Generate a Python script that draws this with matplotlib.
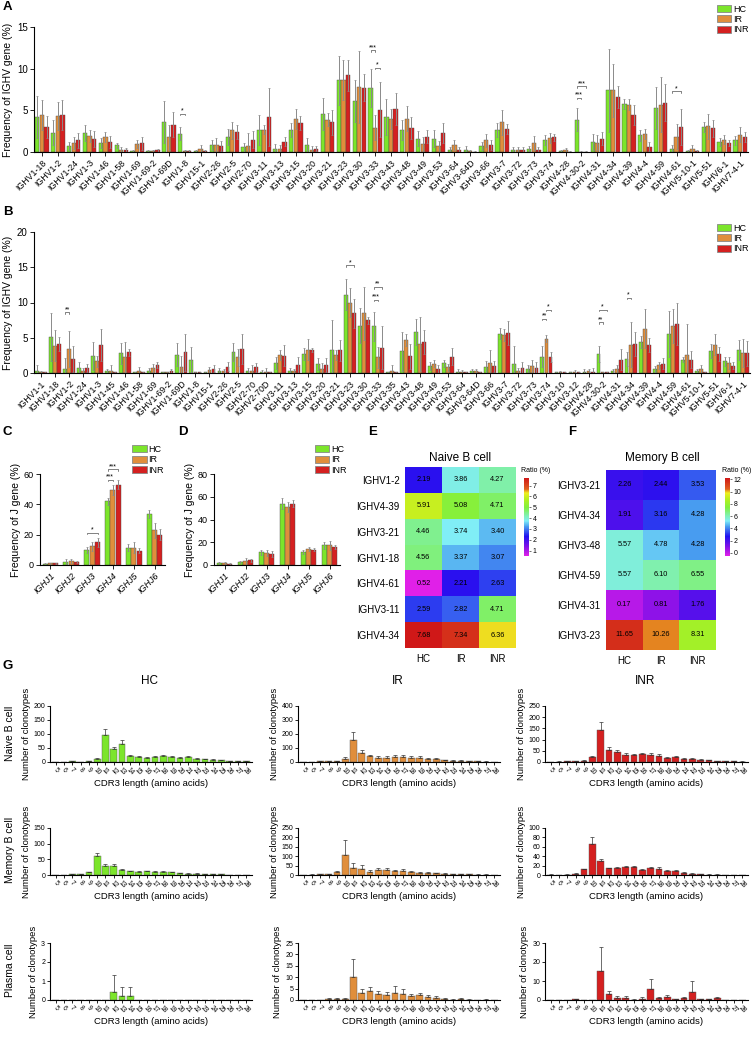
import matplotlib
matplotlib.use('Agg')
import matplotlib.pyplot as plt
import numpy as np
from matplotlib.colors import LinearSegmentedColormap
from matplotlib.patches import Patch

plt.rcParams['font.family'] = ['Liberation Sans', 'DejaVu Sans']

W, H = 752, 1037
groups = ['HC', 'IR', 'INR']
colors = ['#7ce52b', '#e08e3c', '#d42020']

# ---------------- panel A ----------------
a_cats = ['IGHV1-18', 'IGHV1-2', 'IGHV1-24', 'IGHV1-3', 'IGHV1-46', 'IGHV1-58', 'IGHV1-69',
          'IGHV1-69-2', 'IGHV1-69D', 'IGHV1-8', 'IGHV15-1', 'IGHV2-26', 'IGHV2-5', 'IGHV2-70',
          'IGHV3-11', 'IGHV3-13', 'IGHV3-15', 'IGHV3-20', 'IGHV3-21', 'IGHV3-23', 'IGHV3-30',
          'IGHV3-33', 'IGHV3-43', 'IGHV3-48', 'IGHV3-49', 'IGHV3-53', 'IGHV3-64', 'IGHV3-64D',
          'IGHV3-66', 'IGHV3-7', 'IGHV3-72', 'IGHV3-73', 'IGHV3-74', 'IGHV4-28', 'IGHV4-30-2',
          'IGHV4-31', 'IGHV4-34', 'IGHV4-39', 'IGHV4-4', 'IGHV4-59', 'IGHV4-61', 'IGHV5-10-1',
          'IGHV5-51', 'IGHV6-1', 'IGHV7-4-1']
a_hc = [4.2, 2.3, 0.7, 2.3, 1.1, 0.8, 0.15, 0.1, 3.6, 2.2, 0.1, 0.8, 1.8, 0.55, 2.6, 0.4, 2.65, 0.8,
        4.6, 8.6, 6.1, 7.7, 4.2, 2.7, 1.6, 1.6, 0.25, 0.3, 0.7, 2.65, 0.3, 0.4, 1.5, 0.1, 3.9, 1.2,
        7.4, 5.8, 2.0, 5.3, 0.4, 0.1, 3.0, 1.2, 1.4]
a_ir = [4.4, 4.3, 1.1, 1.9, 1.75, 0.3, 0.95, 0.1, 1.75, 0.1, 0.4, 0.9, 2.6, 0.7, 2.7, 0.4, 4.0, 0.3,
        3.9, 8.6, 7.8, 2.9, 4.0, 4.0, 0.95, 0.7, 0.8, 0.1, 1.4, 3.6, 0.3, 1.1, 1.7, 0.2, 0.05, 1.1,
        7.4, 5.7, 2.15, 5.7, 1.85, 0.4, 3.1, 1.5, 2.1]
a_inr = [3.0, 4.4, 1.4, 1.55, 1.2, 0.25, 1.05, 0.2, 3.3, 0.1, 0.1, 0.7, 2.4, 1.5, 4.2, 1.25, 3.5, 0.4,
         3.6, 9.2, 7.7, 5.1, 5.2, 2.9, 1.85, 2.3, 0.3, 0.05, 0.9, 2.8, 0.3, 0.3, 1.75, 0.05, 0.05, 1.6,
         6.6, 4.4, 0.65, 5.9, 3.0, 0.1, 2.85, 1.1, 1.8]
a_hc_err = [2.5, 1.5, 0.5, 1.0, 0.6, 0.3, 0.1, 0.1, 2.5, 0.8, 0.1, 0.6, 1.0, 0.5, 1.8, 0.6, 0.8, 0.9,
            1.9, 2.9, 2.5, 2.3, 2.2, 1.2, 0.9, 1.0, 0.3, 0.4, 0.5, 0.8, 0.3, 0.3, 0.6, 0.1, 1.4, 1.0,
            5.0, 0.6, 0.7, 2.5, 0.5, 0.1, 0.6, 0.5, 0.5]
a_ir_err = [1.8, 1.7, 0.7, 0.7, 0.6, 0.3, 0.5, 0.1, 1.5, 0.1, 0.5, 0.8, 1.0, 1.6, 0.5, 0.5, 1.2, 0.4,
            0.8, 2.4, 4.3, 1.5, 1.2, 1.5, 0.8, 0.6, 0.6, 0.2, 0.8, 1.5, 0.3, 0.8, 0.6, 0.3, 0.05, 0.9,
            3.2, 0.7, 0.6, 3.3, 1.5, 0.5, 1.5, 0.5, 0.9]
a_inr_err = [1.3, 1.8, 0.9, 1.0, 0.7, 0.2, 0.8, 0.2, 1.5, 0.1, 0.1, 0.6, 0.8, 1.0, 3.5, 0.5, 0.8, 0.3,
             1.5, 1.9, 1.6, 3.3, 1.9, 1.3, 0.8, 1.2, 0.3, 0.1, 0.6, 0.6, 0.3, 0.3, 0.4, 0.1, 0.05, 0.8,
             1.3, 1.2, 0.5, 2.2, 2.2, 0.1, 1.0, 0.4, 0.6]
# (category, group from, group to, y, text)
a_sig = [('IGHV1-8', 0, 1, 4.6, '*'), ('IGHV3-33', 0, 1, 12.2, '***'), ('IGHV3-33', 1, 2, 10.1, '*'),
         ('IGHV4-30-2', 0, 2, 7.9, '***'), ('IGHV4-30-2', 0, 1, 6.5, '***'), ('IGHV4-61', 0, 2, 7.3, '*')]

# ---------------- panel B ----------------
b_cats = ['IGHV1-1', 'IGHV1-18', 'IGHV1-2', 'IGHV1-24', 'IGHV1-3', 'IGHV1-45', 'IGHV1-46', 'IGHV1-58',
          'IGHV1-69', 'IGHV1-69-2', 'IGHV1-69D', 'IGHV1-8', 'IGHV15-1', 'IGHV2-26', 'IGHV2-5', 'IGHV2-70',
          'IGHV2-70D', 'IGHV3-11', 'IGHV3-13', 'IGHV3-15', 'IGHV3-20', 'IGHV3-21', 'IGHV3-23', 'IGHV3-30',
          'IGHV3-33', 'IGHV3-35', 'IGHV3-43', 'IGHV3-48', 'IGHV3-49', 'IGHV3-53', 'IGHV3-64', 'IGHV3-64D',
          'IGHV3-66', 'IGHV3-7', 'IGHV3-72', 'IGHV3-73', 'IGHV3-74', 'IGHV3-10', 'IGHV3-12', 'IGHV4-28',
          'IGHV4-30-2', 'IGHV4-31', 'IGHV4-34', 'IGHV4-39', 'IGHV4-4', 'IGHV4-59', 'IGHV4-61', 'IGHV5-10-1',
          'IGHV5-51', 'IGHV6-1', 'IGHV7-4-1']
b_hc = [0.3, 5.07, 0.6, 0.7, 2.45, 0.3, 2.8, 0.1, 0.3, 0.1, 2.6, 1.9, 0.1, 0.3, 3.0, 0.3, 0.2, 1.4, 0.3,
        2.7, 1.27, 3.2, 11.1, 6.7, 6.6, 0.1, 3.05, 5.8, 1.03, 1.4, 0.2, 0.3, 0.85, 5.6, 1.3, 0.6, 2.3,
        0.1, 0.1, 0.2, 2.7, 0.25, 2.0, 4.4, 0.6, 5.5, 1.9, 0.3, 3.15, 1.65, 3.3]
b_ir = [0.1, 3.85, 3.4, 0.3, 1.65, 0.3, 2.25, 0.3, 0.7, 0.1, 0.85, 0.1, 0.4, 0.3, 2.2, 0.3, 0.2, 2.6, 0.3,
        3.3, 0.56, 2.6, 10.0, 8.45, 2.2, 0.3, 4.7, 4.1, 1.3, 0.8, 0.2, 0.3, 1.45, 5.4, 0.3, 1.0, 4.85,
        0.1, 0.2, 0.3, 0.1, 0.56, 4.0, 6.3, 1.1, 6.65, 2.6, 0.6, 4.0, 1.4, 2.8]
b_inr = [0.1, 4.1, 2.0, 0.7, 4.0, 0.1, 2.95, 0.1, 1.1, 0.3, 2.95, 0.1, 0.6, 0.9, 3.4, 0.8, 0.1, 2.45, 1.1,
         3.3, 1.17, 3.2, 8.45, 7.5, 3.6, 0.1, 2.35, 4.45, 0.56, 2.3, 0.1, 0.1, 0.95, 5.7, 0.7, 0.7, 2.3,
         0.1, 0.1, 0.2, 0.1, 1.9, 4.1, 4.0, 1.3, 7.0, 1.9, 0.1, 2.7, 1.03, 2.8]
b_hc_err = [0.8, 3.4, 1.5, 0.8, 2.0, 0.3, 1.5, 0.1, 0.4, 0.1, 1.6, 1.8, 0.1, 0.4, 1.3, 0.4, 0.2, 0.8, 0.4,
            0.8, 0.9, 4.3, 2.2, 2.5, 2.0, 0.1, 2.7, 1.8, 0.6, 0.5, 0.3, 0.3, 0.8, 0.8, 2.5, 0.5, 1.5,
            0.1, 0.1, 0.4, 1.2, 0.3, 1.0, 0.8, 0.4, 3.3, 0.3, 0.3, 1.0, 0.6, 1.4]
b_ir_err = [0.2, 2.2, 2.5, 0.4, 0.8, 0.8, 2.1, 0.5, 0.6, 0.1, 1.5, 0.1, 0.5, 0.3, 1.2, 0.8, 0.5, 0.7, 0.3,
            1.5, 0.8, 0.7, 2.0, 3.8, 1.5, 0.8, 0.9, 3.8, 0.5, 0.5, 0.2, 0.3, 1.8, 0.8, 0.4, 0.8, 0.5,
            0.2, 0.2, 0.2, 0.1, 0.6, 3.2, 2.8, 0.5, 2.4, 4.3, 0.6, 1.5, 0.8, 2.0]
b_inr_err = [0.1, 1.0, 1.9, 0.6, 2.3, 0.1, 0.5, 0.1, 0.4, 0.3, 2.6, 0.1, 0.5, 0.6, 2.1, 0.6, 0.1, 1.5, 1.1,
             0.3, 1.0, 1.5, 2.0, 0.5, 3.0, 0.1, 1.8, 1.7, 0.6, 1.2, 0.1, 0.1, 0.8, 1.7, 0.8, 0.8, 0.7,
             0.1, 0.1, 0.5, 0.1, 1.5, 1.7, 1.0, 0.8, 3.0, 1.2, 0.1, 1.0, 0.5, 1.8]
b_sig = [('IGHV1-2', 0, 1, 8.6, '**'), ('IGHV3-23', 0, 2, 15.3, '*'), ('IGHV3-33', 0, 2, 12.2, '**'),
         ('IGHV3-33', 0, 1, 10.4, '***'), ('IGHV3-74', 1, 2, 9.0, '*'), ('IGHV3-74', 0, 1, 7.7, '**'),
         ('IGHV4-30-2', 0, 2, 9.0, '*'), ('IGHV4-30-2', 0, 1, 7.2, '**'), ('IGHV4-34', 0, 1, 10.7, '*')]

# ---------------- panels C, D ----------------
j_cats = ['IGHJ1', 'IGHJ2', 'IGHJ3', 'IGHJ4', 'IGHJ5', 'IGHJ6']
c_hc = [0.8, 2.2, 9.8, 42, 11.5, 33.5]
c_ir = [1.0, 2.5, 12.3, 49.5, 11.5, 23]
c_inr = [1.0, 2.0, 15, 53, 9.5, 20]
c_hc_err = [0.3, 1.5, 1.8, 2.5, 2.5, 2.8]
c_ir_err = [0.6, 1.5, 2.8, 3.5, 3.5, 5]
c_inr_err = [0.5, 0.8, 3, 3, 1.5, 3.5]
c_sig = [('IGHJ3', 0, 2, 21, '*'), ('IGHJ4', 0, 2, 63, '***'), ('IGHJ4', 0, 1, 56, '***')]
d_hc = [1.8, 2.8, 11, 54, 11.5, 17.5]
d_ir = [1.8, 3.3, 10.5, 51, 14, 17.5]
d_inr = [1.2, 4.2, 9.5, 54, 13.5, 16]
d_hc_err = [1, 1, 2.5, 5, 2, 3]
d_ir_err = [1.2, 3, 3, 4.5, 2, 4]
d_inr_err = [0.5, 1.5, 2.8, 3, 1.5, 1.5]

# ---------------- panels E, F ----------------
e_rows = ['IGHV1-2', 'IGHV4-39', 'IGHV3-21', 'IGHV1-18', 'IGHV4-61', 'IGHV3-11', 'IGHV4-34']
e_vals = [[2.19, 3.86, 4.27], [5.91, 5.08, 4.71], [4.46, 3.74, 3.40], [4.56, 3.37, 3.07],
          [0.52, 2.21, 2.63], [2.59, 2.82, 4.71], [7.68, 7.34, 6.36]]
f_rows = ['IGHV3-21', 'IGHV4-34', 'IGHV3-48', 'IGHV4-59', 'IGHV4-31', 'IGHV3-23']
f_vals = [[2.26, 2.44, 3.53], [1.91, 3.16, 4.28], [5.57, 4.78, 4.28], [5.57, 6.10, 6.55],
          [0.17, 0.81, 1.76], [11.65, 10.26, 8.31]]

# ---------------- panel G ----------------
cdr3 = ['5', '6', '7', '8', '9', '10', '11', '12', '13', '14', '15', '16', '17', '18', '19', '20',
        '21', '22', '23', '24', '25', '26', '27', '28']
naive_hc = [1, 1, 2, 1, 2, 10, 97, 45, 65, 22, 17, 15, 18, 20, 19, 14, 17, 12, 9, 7, 6, 4, 3, 2]
naive_ir = [2, 2, 4, 5, 6, 25, 160, 65, 40, 30, 32, 35, 35, 30, 30, 22, 20, 12, 10, 10, 5, 4, 3, 2]
naive_inr = [1, 2, 3, 4, 5, 22, 145, 52, 45, 32, 32, 37, 30, 28, 20, 23, 15, 12, 10, 8, 4, 3, 3, 2]
mem_hc = [1, 1, 2, 2, 8, 60, 30, 30, 15, 12, 11, 12, 11, 10, 9, 5, 4, 4, 3, 2, 2, 1, 1, 1]
mem_ir = [1, 2, 3, 3, 15, 108, 38, 30, 18, 25, 25, 20, 20, 15, 12, 10, 8, 7, 5, 3, 3, 2, 2, 1]
mem_inr = [1, 0.5, 1, 3, 12, 67, 30, 14, 15, 17, 17, 11, 14, 13, 9, 8, 5, 3, 2, 1, 1, 0.5, 0.5, 0.3]
pla_hc = [0, 0, 0, 0, 0, 0, 0, 0.4, 0.2, 0.2, 0, 0, 0, 0, 0, 0, 0, 0, 0, 0, 0, 0, 0, 0]
pla_ir = [0, 0, 0, 0.4, 0.4, 0.4, 10.2, 3, 4, 2.5, 2, 3, 2.5, 1.8, 2, 1.2, 0.8, 0.5, 0.2, 0.5, 0.2, 0, 0.2, 0]
pla_inr = [0, 0, 0, 0.3, 0, 0, 15.3, 3, 1, 1, 0.2, 0.7, 5.7, 0.8, 1.7, 0.3, 1, 4, 0.3, 0.3, 1, 0, 0, 0]
naive_hc_err = [0.5, 0.5, 1, 0.5, 1, 3, 20, 8, 15, 3, 3, 3, 4, 4, 3, 3, 3, 2, 2, 2, 1, 1, 1, 0.5]
naive_ir_err = [1, 1, 2, 2, 2, 8, 55, 20, 12, 10, 10, 12, 15, 10, 12, 8, 8, 4, 4, 4, 2, 2, 1, 1]
naive_inr_err = [0.5, 1, 1, 1, 2, 3, 32, 15, 10, 6, 3, 5, 8, 8, 3, 6, 5, 4, 3, 2, 1, 1, 1, 0.5]
mem_hc_err = [0.5, 0.5, 1, 1, 2, 10, 5, 6, 3, 2, 2, 2, 2, 2, 2, 1, 1, 1, 1, 0.5, 0.5, 0.3, 0.3, 0.3]
mem_ir_err = [0.5, 1, 1, 1, 5, 78, 25, 22, 8, 12, 10, 8, 10, 5, 5, 4, 3, 3, 2, 1, 1, 1, 1, 0.5]
mem_inr_err = [0.5, 0.3, 0.5, 1, 1, 13, 3, 1.5, 1.5, 3, 3, 2, 4, 3, 1.5, 2, 1, 0.5, 0.5, 0.5, 0.5, 0.3, 0.3, 0.2]
pla_hc_err = [0, 0, 0, 0, 0, 0, 0, 0.9, 0.47, 0.47, 0, 0, 0, 0, 0, 0, 0, 0, 0, 0, 0, 0, 0, 0]
pla_ir_err = [0, 0, 0, 0.4, 0.4, 0.4, 8, 2, 1.5, 1.5, 1.5, 3, 2.5, 0.8, 1, 0.8, 0.8, 0.5, 0.2, 0.5, 0.2, 0, 0.3, 0]
pla_inr_err = [0, 0, 0, 0.3, 0, 0, 12.5, 1.5, 1, 1, 0.3, 0.7, 5.5, 0.8, 1, 0.3, 0.8, 6, 0.3, 0.3, 0.8, 0, 0, 0]


def box(l, t, r, b):
    return [l / W, 1 - b / H, (r - l) / W, (b - t) / H]


def clean(ax, fs=7):
    for s in ['top', 'right']:
        ax.spines[s].set_visible(False)
    for s in ['left', 'bottom']:
        ax.spines[s].set_linewidth(0.8)
    ax.tick_params(width=0.6, length=3, labelsize=fs, pad=1.5)


def grouped(ax, cats, vals, errs, sigs, step=0.29, width=0.27):
    x = np.arange(len(cats))
    for i in range(3):
        ax.bar(x + (i - 1) * step, vals[i], width, yerr=errs[i], color=colors[i],
               edgecolor='#4a4a4a', linewidth=0.3,
               error_kw=dict(ecolor='#8a8a8a', elinewidth=0.7, capsize=0.8, capthick=0.5))
    ax.set_xlim(-0.5, len(cats) - 0.5)
    for cat, g0, g1, y, txt in sigs:
        xc = cats.index(cat)
        x0, x1 = xc + (g0 - 1) * step, xc + (g1 - 1) * step
        h = ax.get_ylim()[1] * 0.012
        ax.plot([x0, x0, x1, x1], [y - h, y, y, y - h], color='#222222', lw=0.4, clip_on=False)
        ax.text((x0 + x1) / 2, y - h * 0.5, txt, ha='center', va='bottom', fontsize=5, clip_on=False)


fig = plt.figure(figsize=(W / 100, H / 100), dpi=100)
handles = [Patch(facecolor=c, edgecolor='#888888', linewidth=0.6, label=g) for c, g in zip(colors, groups)]

# A
ax = fig.add_axes(box(34, 27, 748, 152))
ax.set_ylim(0, 15)
grouped(ax, a_cats, [a_hc, a_ir, a_inr], [a_hc_err, a_ir_err, a_inr_err], a_sig)
ax.set_yticks([0, 5, 10, 15])
ax.set_xticks(np.arange(len(a_cats)))
ax.set_xticklabels(a_cats, rotation=45, ha='right', rotation_mode='anchor')
clean(ax, 7)
ax.tick_params(axis='x', labelsize=6.3)
ax.set_ylabel('Frequency of IGHV gene (%)', fontsize=7.5, labelpad=3)
fig.legend(handles=handles, loc='upper right', bbox_to_anchor=(1.0, 0.999), fontsize=6.5, frameon=False,
           handlelength=1.6, handleheight=0.8, labelspacing=0.15, handletextpad=0.2, borderaxespad=0)

# B
ax = fig.add_axes(box(34, 232, 750, 373))
ax.set_ylim(0, 20)
grouped(ax, b_cats, [b_hc, b_ir, b_inr], [b_hc_err, b_ir_err, b_inr_err], b_sig, step=0.29, width=0.27)
ax.set_yticks([0, 5, 10, 15, 20])
ax.set_xticks(np.arange(len(b_cats)))
ax.set_xticklabels(b_cats, rotation=45, ha='right', rotation_mode='anchor')
clean(ax, 7)
ax.tick_params(axis='x', labelsize=6.3)
ax.set_ylabel('Frequency of IGHV gene (%)', fontsize=7.5, labelpad=3)
fig.legend(handles=handles, loc='upper right', bbox_to_anchor=(1.0, 1 - 220 / H), fontsize=6.5, frameon=False,
           handlelength=1.6, handleheight=0.8, labelspacing=0.15, handletextpad=0.2, borderaxespad=0)

# C and D
for pos, top, tks, vals, errs, sigs, lx in [((40, 474, 165, 565), 60, [0, 20, 40, 60],
                                             [c_hc, c_ir, c_inr], [c_hc_err, c_ir_err, c_inr_err], c_sig, 1.02),
                                            ((214, 474, 340, 565), 80, [0, 20, 40, 60, 80],
                                             [d_hc, d_ir, d_inr], [d_hc_err, d_ir_err, d_inr_err], [], 1.08)]:
    ax = fig.add_axes(box(*pos))
    ax.set_ylim(0, top)
    grouped(ax, j_cats, vals, errs, sigs, step=0.26, width=0.24)
    ax.set_yticks(tks)
    ax.set_xticks(np.arange(len(j_cats)))
    ax.set_xticklabels(j_cats, rotation=45, ha='right', rotation_mode='anchor', style='italic')
    clean(ax, 6.5)
    ax.set_ylabel('Frequency of J gene (%)', fontsize=7.5, labelpad=2)
    ax.legend(handles=handles, loc='upper right', bbox_to_anchor=(lx, 1.36), fontsize=6.5, frameon=False,
              handlelength=1.6, handleheight=0.8, labelspacing=0.15, handletextpad=0.2, borderaxespad=0)

# E and F heatmaps
cmap = LinearSegmentedColormap.from_list('ratio', [(0, '#e020e8'), (0.12, '#8010e8'), (0.25, '#2010f0'),
                                                   (0.38, '#4aa0f0'), (0.45, '#80eef8'), (0.52, '#80f0b0'),
                                                   (0.62, '#80f040'), (0.72, '#b0f020'), (0.81, '#f0ee20'),
                                                   (0.86, '#e06020'), (1, '#d01818')])
for hpos, cpos, rows, vals, vmin, vmax, tks, title, tx in [
        ((405, 467, 516, 648), (524, 478, 529, 556), e_rows, e_vals, 0.5, 7.7, [1, 2, 3, 4, 5, 6, 7],
         'Naive B cell', 460),
        ((606, 470, 716, 650), (725, 478, 730, 556), f_rows, f_vals, -0.5, 12.2, [0, 2, 4, 6, 8, 10, 12],
         'Memory B cell', 662)]:
    ax = fig.add_axes(box(*hpos))
    im = ax.imshow(np.array(vals), cmap=cmap, vmin=vmin, vmax=vmax, aspect='auto')
    for r in range(len(rows)):
        for c in range(3):
            ax.text(c, r, '%.2f' % vals[r][c], ha='center', va='center', fontsize=5.3)
    ax.set_yticks(range(len(rows)))
    ax.set_yticklabels(rows, fontsize=7)
    ax.set_xticks(range(3))
    ax.set_xticklabels(groups, fontsize=7)
    ax.tick_params(length=0, pad=4)
    for s in ax.spines.values():
        s.set_visible(False)
    fig.text(tx / W, 1 - 458 / H, title, ha='center', va='center', fontsize=8.5)
    cax = fig.add_axes(box(*cpos))
    cb = fig.colorbar(im, cax=cax, ticks=tks)
    cb.outline.set_visible(False)
    cax.tick_params(labelsize=5, length=1.5, width=0.4, pad=1)
    fig.text((cpos[0] - 3) / W, 1 - 470 / H, 'Ratio (%)', ha='left', va='center', fontsize=5)

# G
g_cols = [(50, 252), (298, 500), (545, 748)]
g_rows = [(706, 762), (828, 875), (943, 1000)]
g_vals = [[naive_hc, naive_ir, naive_inr], [mem_hc, mem_ir, mem_inr], [pla_hc, pla_ir, pla_inr]]
g_errs = [[naive_hc_err, naive_ir_err, naive_inr_err], [mem_hc_err, mem_ir_err, mem_inr_err],
          [pla_hc_err, pla_ir_err, pla_inr_err]]
g_ylims = [[(200, 50), (400, 100), (250, 50)], [(150, 50), (250, 50), (100, 20)], [(3, 1), (25, 5), (30, 10)]]
x = np.arange(len(cdr3))
for r in range(3):
    for c in range(3):
        ax = fig.add_axes(box(g_cols[c][0], g_rows[r][0], g_cols[c][1], g_rows[r][1]))
        v = g_vals[r][c]
        e = g_errs[r][c]
        ax.bar(x, v, 0.8, yerr=[np.zeros(len(e)), e], color=colors[c], edgecolor='#555555', linewidth=0.3,
               error_kw=dict(ecolor='#333333', elinewidth=0.5, capsize=1.2, capthick=0.5))
        top, step = g_ylims[r][c]
        ax.set_ylim(0, top)
        ax.set_yticks(np.arange(0, top + step / 2, step))
        ax.set_xlim(-0.7, len(cdr3) - 0.3)
        ax.set_xticks(x)
        ax.set_xticklabels(cdr3, rotation=-45, ha='center')
        clean(ax, 5)
        ax.tick_params(length=2)
        ax.tick_params(axis='x', labelsize=4.8, pad=1)
        ax.set_ylabel('Number of clonotypes', fontsize=6.8, labelpad=2)
        ax.set_xlabel('CDR3 length (amino acids)', fontsize=6.8, labelpad=2)

for t, xx in zip(groups, [150, 398, 645]):
    fig.text(xx / W, 1 - 681 / H, t, ha='center', va='center', fontsize=8.5)
for t, yy in zip(['Naive B cell', 'Memory B cell', 'Plasma cell'], [733, 850, 970]):
    fig.text(10 / W, 1 - yy / H, t, ha='center', va='center', rotation=90, fontsize=7.5)

for t, xx, yy in [('A', 3, 7), ('B', 3, 212), ('C', 3, 432), ('D', 178, 432), ('E', 368, 432),
                  ('F', 568, 432), ('G', 3, 666)]:
    fig.text(xx / W, 1 - yy / H, t, ha='left', va='center', fontsize=9.5, fontweight='bold')

fig.savefig('out.png', dpi=100)
